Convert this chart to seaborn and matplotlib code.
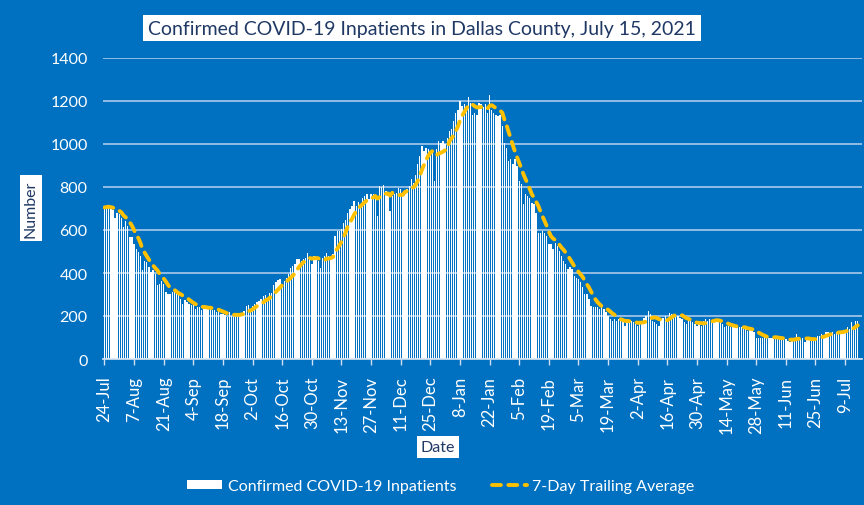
import numpy as np
import pandas as pd
import matplotlib
matplotlib.use("Agg")
import matplotlib.pyplot as plt
import seaborn as sns

# ---------------- data ----------------
start_date = "2020-07-24"
inpatients = [
    705, 708, 712, 700, 695, 657, 680, 673, 657, 612,
    642, 620, 566, 566, 535, 512, 497, 481, 412, 458,
    450, 427, 404, 412, 396, 342, 350, 362, 350, 311,
    304, 304, 311, 311, 304, 296, 280, 257, 273, 265,
    257, 250, 250, 234, 242, 242, 226, 250, 242, 234,
    234, 226, 226, 219, 223, 211, 208, 204, 196, 219,
    201, 201, 209, 209, 201, 216, 224, 247, 250, 232,
    247, 255, 263, 270, 278, 294, 297, 278, 309, 309,
    343, 356, 368, 371, 348, 363, 379, 394, 425, 433,
    441, 464, 467, 456, 464, 472, 495, 472, 441, 480,
    464, 456, 425, 472, 480, 495, 480, 480, 487, 572,
    595, 595, 603, 634, 646, 680, 696, 711, 735, 711,
    730,
    712, 750, 758, 766, 743, 766, 766, 758, 665,
    804, 801, 807, 781, 773, 688, 758, 766, 773, 797,
    789, 773, 781, 789, 804, 835, 820, 858, 905, 943,
    990, 967, 982, 975, 951, 967, 827, 975, 1013, 1005,
    1013, 998, 1029, 1060, 1068, 1106, 1145, 1160, 1199, 1176,
    1184, 1176, 1219, 1191, 1137, 1145, 1137, 1191, 1184, 1170,
    1184, 1145, 1230, 1160, 1145, 1137, 1130, 1137, 1082, 1005,
    982, 920, 928, 905, 928, 897, 827, 812, 719, 766,
    758, 750, 727, 719, 680, 588, 588, 596, 588, 572,
    534, 534, 511, 541, 526, 503, 480, 457, 441, 418,
    426, 418, 387, 379, 372, 356, 333, 302, 302, 279,
    248, 240, 240, 240, 232, 240, 232, 217, 201,
    186, 178, 186, 178, 186, 178, 178, 155, 178, 178,
    178, 170, 162, 155, 162, 178, 193, 201, 224, 209,
    178, 170, 162, 155, 186, 193, 201, 193, 216, 209,
    209, 209, 201, 193, 186, 170, 162, 186, 178, 170,
    162, 155, 162, 155, 178, 186, 178, 186, 178, 178,
    178, 178, 170, 162, 147, 155, 155, 147, 162,
    147, 147, 147, 147, 139, 139, 131, 139, 131, 124,
    100, 100, 96, 100, 108, 100, 100, 100, 100, 100,
    96, 93, 93, 93, 93, 85, 77, 96, 93, 116,
    100, 93, 96, 77, 93, 93, 96, 100, 93, 105,
    108, 116, 108, 124, 124, 120, 124, 116, 124, 131,
    131, 131, 136, 147, 139, 170, 147, 178, 178,
]
tick_labels = ["24-Jul", "7-Aug", "21-Aug", "4-Sep", "18-Sep", "2-Oct", "16-Oct",
               "30-Oct", "13-Nov", "27-Nov", "11-Dec", "25-Dec", "8-Jan", "22-Jan",
               "5-Feb", "19-Feb", "5-Mar", "19-Mar", "2-Apr", "16-Apr", "30-Apr",
               "14-May", "28-May", "11-Jun", "25-Jun", "9-Jul"]
y_ticks = [0, 200, 400, 600, 800, 1000, 1200, 1400]

title = "Confirmed COVID-19 Inpatients in Dallas County, July 15, 2021"
bar_label = "Confirmed COVID-19 Inpatients"
avg_label = "7-Day Trailing Average"

# ---------------- frame ----------------
dates = pd.date_range(start_date, periods=len(inpatients), freq="D")
df = pd.DataFrame({"date": dates, "value": inpatients})
df["day"] = (df["date"] - df["date"].iloc[0]).dt.days
df["avg"] = df["value"].rolling(7, min_periods=1).mean()

BG = "#0070C0"
GRID = "#a9c9ea"
NAVY = "#1F3864"
YEL = "#FFC000"
FONT = ["Lato", "DejaVu Sans"]

sns.set_theme(style="white")
plt.rcParams["font.family"] = FONT

fig = plt.figure(figsize=(8.64, 5.06), dpi=100, facecolor=BG)
ax = fig.add_axes([103 / 864, 1 - 360 / 506, (862 - 103) / 864, (360 - 59) / 506])
ax.set_facecolor(BG)

sns.barplot(data=df, x="day", y="value", native_scale=True, width=0.64,
            color="white", saturation=1, edgecolor="none", linewidth=0,
            label=bar_label, ax=ax, zorder=2)
sns.lineplot(data=df, x="day", y="avg", color=YEL, linewidth=2.8,
             label=avg_label, ax=ax, zorder=3, dashes=False)
line = ax.lines[-1]
line.set_linestyle((0, (2.3, 1.9)))
line.set_dash_capstyle("round")

ax.set_xlim(-0.7, 358)
ax.set_ylim(0, 1400)
ax.set_yticks(y_ticks)
ax.set_yticklabels([str(v) for v in y_ticks], color="white", fontsize=11.5)
ax.set_xticks(np.arange(0, 14 * len(tick_labels), 14))
ax.set_xticklabels(tick_labels, rotation=90, color="white", fontsize=12)
ax.tick_params(axis="y", length=0, pad=11)
ax.tick_params(axis="x", length=4, width=1, color="#cfe0f2", pad=8, bottom=True)
ax.yaxis.grid(True, color=GRID, linewidth=1.2, zorder=0)
ax.set_axisbelow(True)
ax.xaxis.grid(False)
for s in ["top", "right", "left"]:
    ax.spines[s].set_visible(False)
ax.spines["bottom"].set_color("#d9e6f4")
ax.spines["bottom"].set_linewidth(1.2)
ax.set_xlabel("")
ax.set_ylabel("")

box = dict(boxstyle="square,pad=0.25", facecolor="white", edgecolor="none")
fig.text(422 / 864, 1 - 29 / 506, title, ha="center", va="center",
         fontsize=14, color=NAVY, bbox=box)
fig.text(31 / 864, 1 - 209 / 506, "Number", ha="center", va="center",
         rotation=90, fontsize=11.5, color=NAVY, bbox=box)
fig.text(438 / 864, 1 - 448 / 506, "Date", ha="center", va="center",
         fontsize=11.5, color=NAVY, bbox=box)

handles, labels = ax.get_legend_handles_labels()
order = [labels.index(bar_label), labels.index(avg_label)]
ax.legend([handles[i] for i in order], [labels[i] for i in order],
          loc="center", bbox_to_anchor=(441 / 864, 1 - 487 / 506),
          bbox_transform=fig.transFigure, ncol=2, frameon=False,
          fontsize=11.5, labelcolor="white", handlelength=2.2, handletextpad=0.35,
          columnspacing=2.2, handleheight=0.55)

fig.savefig("out.png", dpi=100, facecolor=BG)
